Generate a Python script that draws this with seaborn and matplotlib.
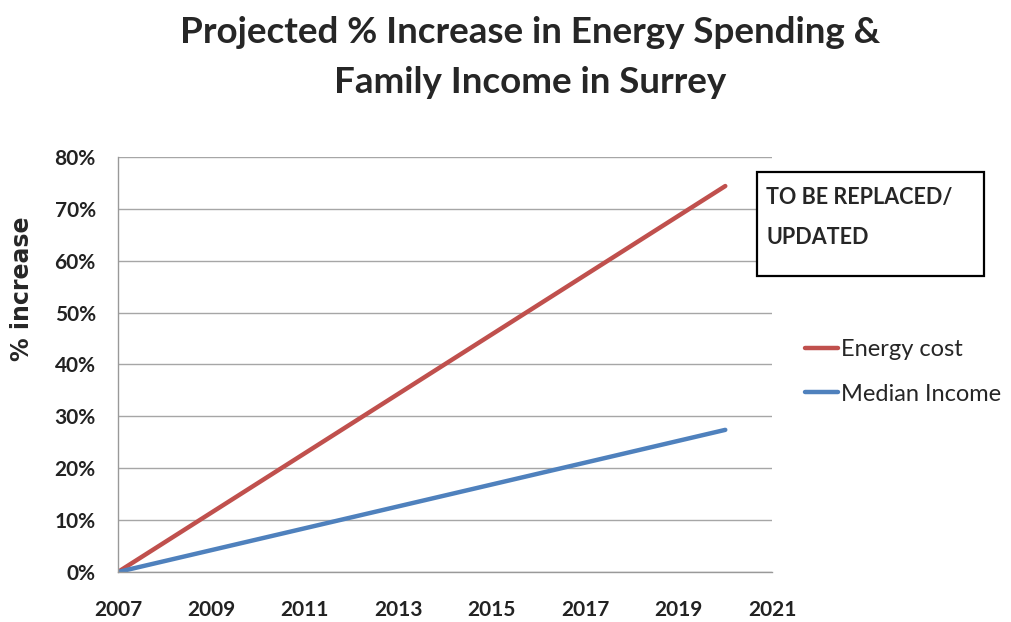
import matplotlib
matplotlib.use("Agg")
import matplotlib.pyplot as plt
import seaborn as sns
import pandas as pd
from matplotlib.lines import Line2D
from matplotlib.patches import Rectangle

# data (straight lines from 2007 to 2020)
years = [2007, 2020]
energy_cost = [0.0, 74.4]
median_income = [0.0, 27.4]
series_names = ["Energy cost", "Median Income"]
x_ticks = [2007, 2009, 2011, 2013, 2015, 2017, 2019, 2021]
y_ticks = [0, 10, 20, 30, 40, 50, 60, 70, 80]

df = pd.DataFrame({
    "Year": years * 2,
    "Value": energy_cost + median_income,
    "Series": [series_names[0]] * len(years) + [series_names[1]] * len(years),
})

sns.set_style("white")
plt.rcParams["font.family"] = ["Lato", "DejaVu Sans"]

fig = plt.figure(figsize=(10.11, 6.22), dpi=100)
ax = fig.add_axes([0.1167, 0.0804, 0.6469, 0.6672])

palette = {"Energy cost": "#C0504D", "Median Income": "#4F81BD"}
sns.lineplot(data=df, x="Year", y="Value", hue="Series", palette=palette,
             linewidth=3.2, ax=ax, legend=False)

ax.set_xlim(2007, 2021)
ax.set_ylim(0, 80)
ax.set_xticks(x_ticks)
ax.set_yticks(y_ticks)
ax.set_xticklabels([str(t) for t in x_ticks], fontsize=15, fontweight="bold", color="#222222")
ax.set_yticklabels([f"{t}%" for t in y_ticks], fontsize=15, fontweight="bold", color="#222222")
ax.tick_params(axis="x", direction="out", length=6, width=1, color="#999999", pad=14)
ax.tick_params(axis="y", direction="out", length=6, width=1, color="#999999", pad=10)
ax.set_xlabel("")
ax.set_ylabel("% increase", fontsize=17, fontweight="bold", family="DejaVu Sans")
ax.yaxis.set_label_coords(-0.128, 0.682)
ax.yaxis.grid(True, color="#a6a6a6", linewidth=1)
ax.set_axisbelow(True)
for s in ["top", "right"]:
    ax.spines[s].set_visible(False)
for s in ["left", "bottom"]:
    ax.spines[s].set_color("#999999")
    ax.spines[s].set_linewidth(1)

# legend outside the plot area, on the right
handles = [Line2D([0], [0], color=palette[n], linewidth=3.2) for n in series_names]
fig.legend(handles, series_names, loc="upper left", bbox_to_anchor=(0.796, 0.455),
           frameon=False, fontsize=17, handlelength=1.4, handletextpad=0.12,
           labelspacing=1.0, borderpad=0, borderaxespad=0)

fig.text(0.524, 0.975, "Projected % Increase in Energy Spending &\nFamily Income in Surrey",
         ha="center", va="top", fontsize=26.5, fontweight="bold", linespacing=1.65)

# "to be replaced" note box
fig.add_artist(Rectangle((0.7488, 0.5563), 0.2245, 0.1672, transform=fig.transFigure,
                         facecolor="white", edgecolor="black", linewidth=1.6))
fig.text(0.7577, 0.6817, "TO BE REPLACED/", ha="left", va="center", fontsize=15.5, fontweight="bold")
fig.text(0.7577, 0.6174, "UPDATED", ha="left", va="center", fontsize=15.5, fontweight="bold")

fig.savefig("out.png", dpi=100)
